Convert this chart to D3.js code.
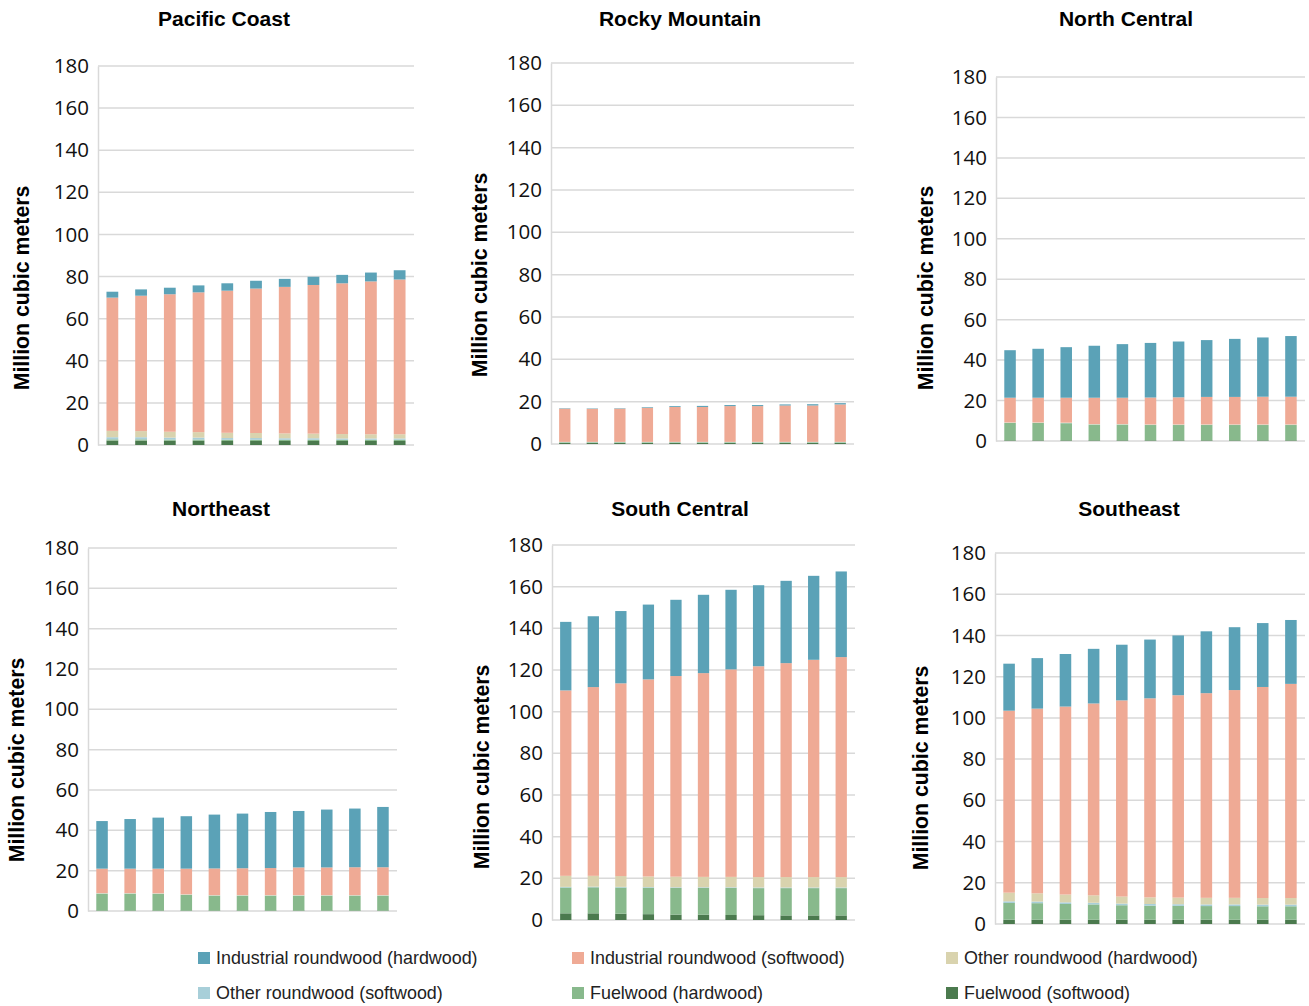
<!DOCTYPE html>
<html><head><meta charset="utf-8">
<script src="https://cdn.jsdelivr.net/npm/d3@7/dist/d3.min.js"></script>
<style>
body{margin:0;background:#fff;}
svg{display:block;}
</style></head>
<body>
<svg id="chart" width="1309" height="1006"></svg>
<script>
// ---- data ----
const periods = ["2010","2015","2020","2025","2030","2035","2040","2045","2050","2055","2060"];
const yTicks = [0,20,40,60,80,100,120,140,160,180];
const seriesNames = ["Industrial roundwood (hardwood)","Industrial roundwood (softwood)","Other roundwood (hardwood)","Other roundwood (softwood)","Fuelwood (hardwood)","Fuelwood (softwood)"];
const regionNames = ["Pacific Coast","Rocky Mountain","North Central","Northeast","South Central","Southeast"];

// Pacific Coast
const pcIndHard  = [2.8, 3.0, 3.1, 3.3, 3.5, 3.7, 3.8, 3.9, 4.0, 4.2, 4.4];
const pcIndSoft  = [63.3, 64.3, 65.3, 66.4, 67.5, 68.6, 69.6, 70.6, 71.6, 72.6, 73.5];
const pcOthHard  = [3.0, 2.9, 2.8, 2.6, 2.5, 2.4, 2.3, 2.2, 2.1, 2.0, 2.0];
const pcOthSoft  = [1.0, 1.0, 0.9, 0.9, 0.8, 0.8, 0.7, 0.7, 0.6, 0.6, 0.6];
const pcFuelHard = [0.6, 0.6, 0.6, 0.6, 0.6, 0.6, 0.6, 0.6, 0.6, 0.6, 0.6];
const pcFuelSoft = [2.1, 2.1, 2.0, 2.0, 1.9, 1.9, 1.9, 1.9, 1.9, 1.9, 1.9];
// Rocky Mountain
const rmIndHard  = [0.2, 0.2, 0.2, 0.3, 0.4, 0.5, 0.5, 0.5, 0.5, 0.6, 0.6];
const rmIndSoft  = [15.7, 15.6, 15.7, 16.1, 16.5, 16.5, 16.9, 16.9, 17.2, 17.2, 17.7];
const rmOthHard  = [0.1, 0.1, 0.1, 0.1, 0.1, 0.1, 0.1, 0.1, 0.1, 0.1, 0.1];
const rmOthSoft  = [0.1, 0.1, 0.1, 0.1, 0.1, 0.1, 0.1, 0.1, 0.1, 0.1, 0.1];
const rmFuelHard = [0.3, 0.3, 0.3, 0.3, 0.3, 0.3, 0.3, 0.3, 0.3, 0.3, 0.3];
const rmFuelSoft = [0.5, 0.5, 0.5, 0.5, 0.5, 0.5, 0.5, 0.5, 0.5, 0.5, 0.5];
// North Central
const ncIndHard  = [23.5, 24.2, 25.0, 25.7, 26.5, 27.0, 27.6, 28.1, 28.7, 29.3, 30.0];
const ncIndSoft  = [12.2, 12.2, 12.3, 13.0, 13.0, 13.3, 13.4, 13.6, 13.6, 13.7, 13.7];
const ncOthHard  = [0.2, 0.2, 0.2, 0.2, 0.2, 0.2, 0.2, 0.2, 0.2, 0.2, 0.2];
const ncOthSoft  = [0.1, 0.1, 0.1, 0.1, 0.1, 0.1, 0.1, 0.1, 0.1, 0.1, 0.1];
const ncFuelHard = [8.6, 8.6, 8.5, 7.8, 7.8, 7.6, 7.6, 7.6, 7.6, 7.6, 7.6];
const ncFuelSoft = [0.3, 0.3, 0.3, 0.3, 0.3, 0.3, 0.3, 0.3, 0.3, 0.3, 0.3];
// Northeast
const neIndHard  = [23.6, 24.6, 25.3, 26.0, 26.7, 27.1, 27.8, 28.0, 28.7, 29.1, 29.9];
const neIndSoft  = [12.1, 12.1, 12.2, 12.7, 13.2, 13.3, 13.4, 13.7, 13.7, 13.8, 13.8];
const neOthHard  = [0.2, 0.2, 0.2, 0.2, 0.2, 0.2, 0.2, 0.2, 0.2, 0.2, 0.2];
const neOthSoft  = [0.1, 0.1, 0.1, 0.1, 0.1, 0.1, 0.1, 0.1, 0.1, 0.1, 0.1];
const neFuelHard = [8.4, 8.4, 8.3, 7.8, 7.4, 7.4, 7.4, 7.4, 7.4, 7.4, 7.4];
const neFuelSoft = [0.2, 0.2, 0.2, 0.2, 0.2, 0.2, 0.2, 0.2, 0.2, 0.2, 0.2];
// South Central
const scIndHard  = [32.9, 34.0, 34.7, 35.9, 36.6, 37.6, 38.2, 38.9, 39.5, 40.3, 41.1];
const scIndSoft  = [89.0, 90.6, 92.5, 94.6, 96.3, 97.8, 99.6, 101.2, 102.7, 104.3, 105.6];
const scOthHard  = [5.3, 5.2, 5.2, 5.1, 5.1, 5.0, 5.0, 5.0, 5.0, 5.0, 5.0];
const scOthSoft  = [0.3, 0.3, 0.3, 0.3, 0.3, 0.3, 0.3, 0.3, 0.3, 0.3, 0.3];
const scFuelHard = [12.4, 12.5, 12.6, 12.7, 12.8, 12.9, 13.0, 13.0, 13.1, 13.1, 13.1];
const scFuelSoft = [3.2, 3.2, 3.0, 2.8, 2.6, 2.5, 2.4, 2.3, 2.2, 2.2, 2.2];
// Southeast
const seIndHard  = [22.8, 24.5, 25.5, 26.5, 27.0, 28.5, 29.0, 30.0, 30.5, 31.0, 31.0];
const seIndSoft  = [88.3, 89.6, 91.2, 93.1, 95.2, 96.6, 98.2, 99.3, 100.8, 102.4, 103.9];
const seOthHard  = [4.2, 4.0, 3.8, 3.6, 3.4, 3.2, 3.2, 3.2, 3.2, 3.2, 3.2];
const seOthSoft  = [0.8, 0.8, 0.8, 0.8, 0.8, 0.8, 0.8, 0.8, 0.8, 0.8, 0.8];
const seFuelHard = [8.1, 8.0, 7.6, 7.4, 7.0, 6.8, 6.7, 6.6, 6.6, 6.5, 6.5];
const seFuelSoft = [2.1, 2.1, 2.1, 2.1, 2.1, 2.1, 2.1, 2.1, 2.1, 2.1, 2.1];

const regionSeries = [
  [pcIndHard, pcIndSoft, pcOthHard, pcOthSoft, pcFuelHard, pcFuelSoft],
  [rmIndHard, rmIndSoft, rmOthHard, rmOthSoft, rmFuelHard, rmFuelSoft],
  [ncIndHard, ncIndSoft, ncOthHard, ncOthSoft, ncFuelHard, ncFuelSoft],
  [neIndHard, neIndSoft, neOthHard, neOthSoft, neFuelHard, neFuelSoft],
  [scIndHard, scIndSoft, scOthHard, scOthSoft, scFuelHard, scFuelSoft],
  [seIndHard, seIndSoft, seOthHard, seOthSoft, seFuelHard, seFuelSoft]
];

// ---- styling / layout ----
const colors = ["#5ba2b7","#efaa95","#d9d3ae","#a8cfd9","#88b98c","#4b7a4e"];
const stackOrder = [5,4,3,2,1,0]; // bottom to top
const layout = [
  {x0:98,  x1:414,  yTop:66,  yBot:445, tx:224,  ty:18,  lx:22,  ly:288},
  {x0:551, x1:854,  yTop:63,  yBot:444, tx:680,  ty:18,  lx:480, ly:275},
  {x0:996, x1:1305, yTop:77,  yBot:441, tx:1126, ty:18,  lx:926, ly:288},
  {x0:88,  x1:397,  yTop:548, yBot:911, tx:221,  ty:508, lx:17,  ly:760},
  {x0:552, x1:855,  yTop:545, yBot:920, tx:680,  ty:508, lx:482, ly:767},
  {x0:995, x1:1305, yTop:553, yBot:924, tx:1129, ty:508, lx:921, ly:768}
];

const svg = d3.select("#chart");
const gridColor = "#d9d9d9";

regionNames.forEach((name, ri) => {
  const L = layout[ri];
  const g = svg.append("g");
  const x = d3.scaleBand().domain(periods).range([L.x0, L.x1]).paddingInner(0.59).paddingOuter(0.295);
  const y = d3.scaleLinear().domain([0,180]).range([L.yBot, L.yTop]);

  // gridlines
  g.append("g").selectAll("line").data(yTicks).join("line")
    .attr("x1", L.x0).attr("x2", L.x1)
    .attr("y1", d => y(d)).attr("y2", d => y(d))
    .attr("stroke", gridColor).attr("stroke-width", 1.5);

  // y axis
  const ax = g.append("g").attr("transform", `translate(${L.x0},0)`)
    .call(d3.axisLeft(y).tickValues(yTicks).tickSize(0).tickPadding(9).tickFormat(d3.format("d")));
  ax.select(".domain").attr("stroke", gridColor).attr("stroke-width", 1.5);
  ax.selectAll("text").attr("font-family", "'Open Sans', sans-serif").attr("font-size", 20.5).attr("fill", "#111");

  // stacked bars
  const rows = periods.map((p, i) => {
    const o = {period: p};
    seriesNames.forEach((s, si) => o[s] = regionSeries[ri][si][i]);
    return o;
  });
  const stack = d3.stack().keys(stackOrder.map(k => seriesNames[k]));
  const layers = stack(rows);
  g.append("g").selectAll("g").data(layers).join("g")
    .attr("fill", d => colors[seriesNames.indexOf(d.key)])
    .selectAll("rect").data(d => d).join("rect")
    .attr("x", d => x(d.data.period))
    .attr("width", x.bandwidth())
    .attr("y", d => y(d[1]))
    .attr("height", d => Math.max(0, y(d[0]) - y(d[1])));

  // title
  g.append("text").attr("x", L.tx).attr("y", L.ty).attr("text-anchor", "middle")
    .attr("dominant-baseline", "central")
    .attr("font-family", "'Liberation Sans', Arial, sans-serif").attr("font-weight", "bold")
    .attr("font-size", 21).attr("fill", "#000").text(name);

  // y label
  g.append("text").attr("transform", `translate(${L.lx},${L.ly}) rotate(-90)`)
    .attr("text-anchor", "middle").attr("dominant-baseline", "central")
    .attr("font-family", "'Liberation Sans', Arial, sans-serif").attr("font-weight", "bold")
    .attr("font-size", 21.3).attr("fill", "#000").text("Million cubic meters");
});

// legend
const legendPos = [
  {x:198, y:958},{x:572, y:958},{x:946, y:958},
  {x:198, y:993},{x:572, y:993},{x:946, y:993}
];
const lg = svg.append("g").selectAll("g").data(seriesNames).join("g")
  .attr("transform", (d,i) => `translate(${legendPos[i].x},${legendPos[i].y})`);
lg.append("rect").attr("x", 0).attr("y", -6).attr("width", 12).attr("height", 12)
  .attr("fill", (d,i) => colors[i]);
lg.append("text").attr("x", 18).attr("y", 0).attr("dominant-baseline", "central")
  .attr("font-family", "'Liberation Sans', Arial, sans-serif").attr("font-size", 17.9)
  .attr("fill", "#222").text(d => d);
</script>
</body></html>
